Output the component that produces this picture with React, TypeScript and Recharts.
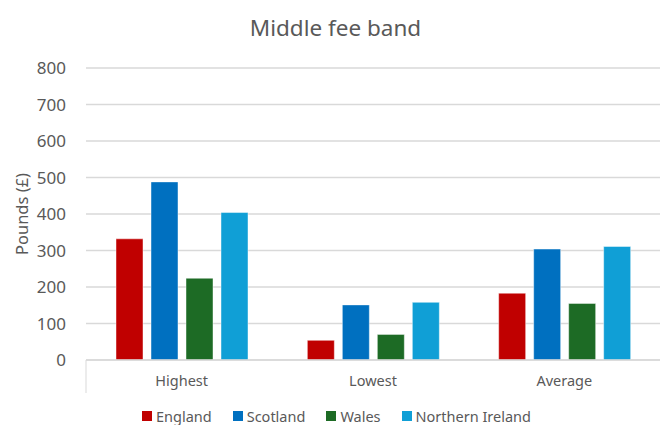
import React from 'react';
import { BarChart, Bar, XAxis, YAxis, CartesianGrid, Legend, usePlotArea } from 'recharts';

const categories = ['Highest', 'Lowest', 'Average'];
const england = [332, 54, 183];
const scotland = [488, 151, 304];
const wales = [224, 70, 155];
const northernIreland = [404, 158, 311];
const yTicks = [0, 100, 200, 300, 400, 500, 600, 700, 800];

const seriesNames = ['England', 'Scotland', 'Wales', 'Northern Ireland'];
const seriesColors = ['#C00000', '#0070C0', '#1D6B25', '#109FD6'];
const seriesData = [england, scotland, wales, northernIreland];

const data = categories.map((c, i) => {
  const row: Record<string, any> = { category: c };
  seriesNames.forEach((s, j) => {
    row[s] = seriesData[j][i];
  });
  return row;
});

const TEXT = '#595959';
const FONT = "'Noto Sans', sans-serif";

function CategoryBoxLine() {
  const pa = usePlotArea();
  if (!pa) return null;
  const yb = pa.y + pa.height;
  return <line x1={pa.x} x2={pa.x} y1={yb} y2={yb + 33} stroke="#d9d9d9" strokeWidth={1} />;
}

const renderLegend = () => (
  <div style={{ display: 'flex', justifyContent: 'center', gap: 21, fontFamily: FONT, fontSize: 14.5, color: TEXT, height: 20, alignItems: 'center', paddingLeft: 10 }}>
    {seriesNames.map((s, j) => (
      <div key={s} style={{ display: 'flex', alignItems: 'center' }}>
        <span style={{ display: 'inline-block', width: 10, height: 10, background: seriesColors[j], marginRight: 4 }} />
        <span>{s}</span>
      </div>
    ))}
  </div>
);

export default function App() {
  return (
    <div style={{ position: 'absolute', left: 0, top: 0, width: 663, height: 425, background: '#fff' }}>
      <div style={{ position: 'absolute', top: 12, left: 4, width: 663, textAlign: 'center', fontFamily: FONT, fontSize: 22.5, color: TEXT }}>
        Middle fee band
      </div>
      <BarChart
        width={663}
        height={425}
        data={data}
        margin={{ top: 68, right: 3, bottom: 15, left: 0 }}
        barSize={27}
        barGap={8}
      >
        <CartesianGrid vertical={false} stroke="#d9d9d9" strokeWidth={1.3} />
        <XAxis
          dataKey="category"
          tickLine={false}
          axisLine={{ stroke: '#d9d9d9', strokeWidth: 1.3 }}
          tickSize={0}
          tickMargin={16}
          tick={{ fill: TEXT, fontSize: 14.5, fontFamily: FONT }}
        />
        <YAxis
          width={86}
          domain={[0, 800]}
          ticks={yTicks}
          axisLine={false}
          tickLine={false}
          tickSize={0}
          tickMargin={20}
          tick={{ fill: TEXT, fontSize: 17, fontFamily: FONT }}
          label={{
            content: (props: any) => {
              const vb = props.viewBox || { x: 0, y: 68, height: 292 };
              const cx = 21;
              const cy = vb.y + vb.height / 2;
              return (
                <text x={cx} y={cy} transform={`rotate(-90 ${cx} ${cy})`} textAnchor="middle" dominantBaseline="central" fill={TEXT} fontSize={16.5} fontFamily={FONT}>
                  Pounds (£)
                </text>
              );
            },
          }}
        />
        <Legend verticalAlign="bottom" content={renderLegend} wrapperStyle={{ top: 406, bottom: 'auto', left: 0, width: 663 }} />
        {seriesNames.map((s, j) => (
          <Bar key={s} dataKey={s} fill={seriesColors[j]} stroke="#ffffff" strokeOpacity={0.45} strokeWidth={1} isAnimationActive={false} />
        ))}
        <CategoryBoxLine />
      </BarChart>
    </div>
  );
}
